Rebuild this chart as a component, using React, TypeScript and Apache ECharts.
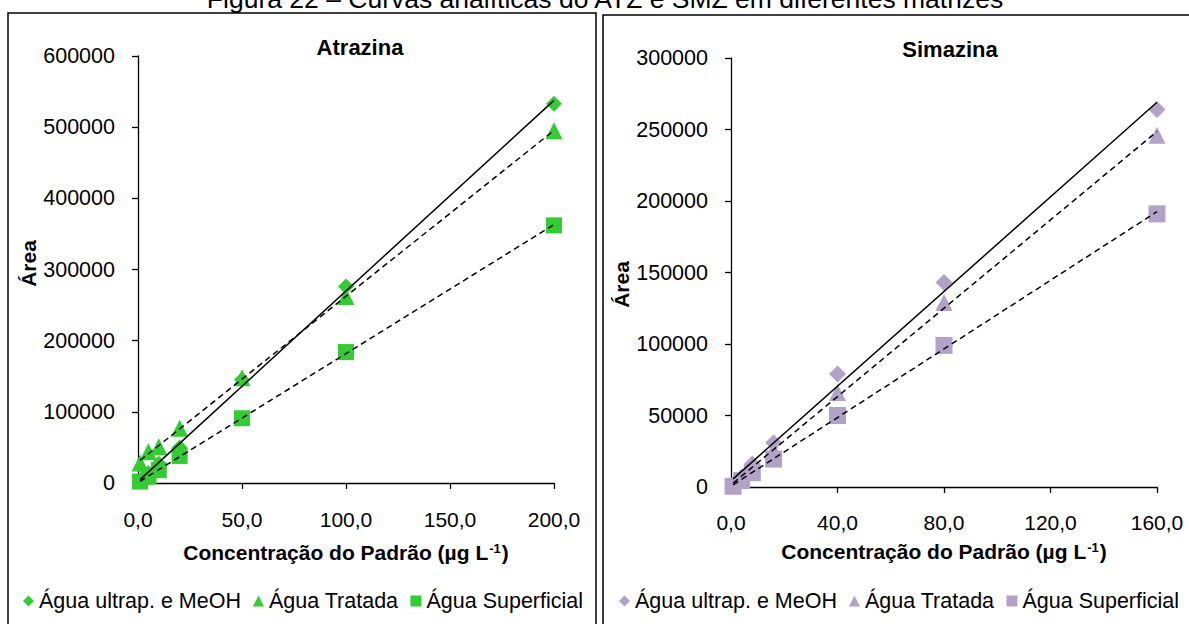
import React, { useEffect, useRef } from "react";
import * as echarts from "echarts";

const figureTitle = "Figura 22 – Curvas analíticas do ATZ e SMZ em diferentes matrizes";
const panelTitles = ["Atrazina", "Simazina"];
const seriesNames = ["Água ultrap. e MeOH", "Água Tratada", "Água Superficial"];
const xAxisTitle = "Concentração do Padrão (µg L{sup|-1})";
const yAxisTitle = "Área";

// Atrazina (ATZ)
const atzConc = [1, 5, 10, 20, 50, 100, 200];
const atzUltrap = [3000, 14000, 27000, 50000, 145000, 276000, 533000];
const atzTratada = [28000, 44000, 51000, 77000, 148000, 262000, 495000];
const atzSuperficial = [2000, 9000, 18000, 38000, 91000, 184000, 362000];
const atzXTicks = [0, 50, 100, 150, 200];
const atzYTicks = [0, 100000, 200000, 300000, 400000, 500000, 600000];

// Simazina (SMZ)
const smzConc = [0.8, 4, 8, 16, 40, 80, 160];
const smzUltrap = [1500, 7000, 16000, 31000, 79000, 143000, 264000];
const smzTratada = [1200, 6000, 13000, 26000, 66000, 129000, 246000];
const smzSuperficial = [500, 4500, 10000, 19500, 50000, 99000, 191000];
const smzXTicks = [0, 40, 80, 120, 160];
const smzYTicks = [0, 50000, 100000, 150000, 200000, 250000, 300000];

const symbols = ["diamond", "triangle", "rect"];
const trendTypes: any[] = ["solid", [6, 4], [6, 4]];
const FONT = "'Liberation Sans', Arial, sans-serif";

function fit(xs: number[], ys: number[]) {
  const n = xs.length;
  const mx = xs.reduce((a, b) => a + b, 0) / n;
  const my = ys.reduce((a, b) => a + b, 0) / n;
  let sxy = 0, sxx = 0;
  for (let i = 0; i < n; i++) {
    sxy += (xs[i] - mx) * (ys[i] - my);
    sxx += (xs[i] - mx) * (xs[i] - mx);
  }
  const b = sxy / sxx;
  const a = my - b * mx;
  const x0 = Math.min(...xs);
  const x1 = Math.max(...xs);
  return [[x0, a + b * x0], [x1, a + b * x1]];
}

const fmtX = (v: number) => v.toFixed(1).replace(".", ",");
const fmtY = (v: number) => String(Math.round(v));

export default function App() {
  const ref = useRef<HTMLDivElement>(null);
  useEffect(() => {
    if (!ref.current) return;
    const chart = echarts.init(ref.current, undefined, { renderer: "svg" });

    const panels = [
      {
        conc: atzConc, ys: [atzUltrap, atzTratada, atzSuperficial], color: "#33CC33",
        xTicks: atzXTicks, yTicks: atzYTicks, grid: { left: 138, top: 56, width: 416, height: 427 },
        symSize: [16, 17, 16], xMargin: 26, yMargin: 23, xNameGap: 59, yNameGap: 97,
        yNamePad: [0, 0, 0, 12],
        legendLeft: 18, titleX: 360, titleY: 47,
      },
      {
        conc: smzConc, ys: [smzUltrap, smzTratada, smzSuperficial], color: "#B3A2C7",
        xTicks: smzXTicks, yTicks: smzYTicks, grid: { left: 731, top: 58, width: 426, height: 429 },
        symSize: [17, 17, 17], xMargin: 25, yMargin: 23, xNameGap: 54, yNameGap: 95,
        yNamePad: [0, 24, 0, 0],
        legendLeft: 614, titleX: 950, titleY: 49,
      },
    ];

    const grid: any[] = [];
    const xAxis: any[] = [];
    const yAxis: any[] = [];
    const series: any[] = [];
    const legend: any[] = [];
    const graphicEls: any[] = [
      {
        type: "rect", shape: { x: 8, y: 13, width: 588, height: 700 },
        style: { fill: "none", stroke: "#000", lineWidth: 1.5 }, silent: true,
      },
      {
        type: "rect", shape: { x: 603, y: 15, width: 700, height: 700 },
        style: { fill: "none", stroke: "#000", lineWidth: 1.5 }, silent: true,
      },
      {
        type: "text", x: 605, y: 12,
        style: {
          text: figureTitle, font: `26.5px ${FONT}`, fill: "#000",
          textAlign: "center", textVerticalAlign: "bottom",
        },
      },
    ];

    panels.forEach((p, gi) => {
      grid.push({ ...p.grid, containLabel: false });
      xAxis.push({
        type: "value", gridIndex: gi,
        min: p.xTicks[0], max: p.xTicks[p.xTicks.length - 1],
        interval: p.xTicks[1] - p.xTicks[0],
        splitLine: { show: false },
        axisLine: { lineStyle: { color: "#000", width: 1.3 } },
        axisTick: { inside: false, length: 6, lineStyle: { color: "#000", width: 1.3 } },
        axisLabel: { formatter: fmtX, fontSize: 21, fontFamily: FONT, color: "#000", margin: p.xMargin },
        name: xAxisTitle, nameLocation: "middle", nameGap: p.xNameGap,
        nameTextStyle: {
          fontSize: 21, fontWeight: "bold", fontFamily: FONT, color: "#000",
          rich: { sup: { fontSize: 13, fontWeight: "bold", fontFamily: FONT, color: "#000", verticalAlign: "top", padding: [0, 1, 8, 1] } },
        },
      });
      yAxis.push({
        type: "value", gridIndex: gi,
        min: p.yTicks[0], max: p.yTicks[p.yTicks.length - 1],
        interval: p.yTicks[1] - p.yTicks[0],
        splitLine: { show: false },
        axisLine: { show: true, lineStyle: { color: "#000", width: 1.3 } },
        axisTick: { show: true, inside: false, length: 6, lineStyle: { color: "#000", width: 1.3 } },
        axisLabel: { formatter: fmtY, fontSize: 21.5, fontFamily: FONT, color: "#000", margin: p.yMargin },
        name: yAxisTitle, nameLocation: "middle", nameGap: p.yNameGap,
        nameTextStyle: { fontSize: 21, fontWeight: "bold", fontFamily: FONT, color: "#000", padding: p.yNamePad },
      });
      p.ys.forEach((ys, si) => {
        series.push({
          type: "scatter", name: seriesNames[si], xAxisIndex: gi, yAxisIndex: gi,
          symbol: symbols[si], symbolSize: p.symSize[si],
          itemStyle: { color: p.color, opacity: 1 },
          data: p.conc.map((x, i) => [x, ys[i]]),
          z: 2,
        });
      });
      p.ys.forEach((ys, si) => {
        series.push({
          type: "line", xAxisIndex: gi, yAxisIndex: gi,
          showSymbol: false, symbol: "none",
          lineStyle: { color: "#000", width: 1.5, type: trendTypes[si] },
          data: fit(p.conc, ys),
          z: 3, silent: true,
        });
      });
      legend.push({
        left: p.legendLeft, top: 585, orient: "horizontal",
        itemWidth: 11, itemHeight: 11, itemGap: 12,
        textStyle: { fontSize: 21.5, fontFamily: FONT, color: "#000" },
        selectedMode: false,
        data: seriesNames.map((n, si) => ({ name: n, icon: symbols[si], itemStyle: { color: p.color } })),
      });
      graphicEls.push({
        type: "text", x: p.titleX, y: p.titleY,
        style: {
          text: panelTitles[gi], font: `bold 22px ${FONT}`, fill: "#000",
          textAlign: "center", textVerticalAlign: "middle",
        },
      });
    });

    chart.setOption({
      animation: false,
      backgroundColor: "#fff",
      grid, xAxis, yAxis, series, legend,
      graphic: { elements: graphicEls },
    });
    return () => chart.dispose();
  }, []);
  return <div ref={ref} style={{ position: "absolute", left: 0, top: 0, width: 1189, height: 624 }} />;
}
